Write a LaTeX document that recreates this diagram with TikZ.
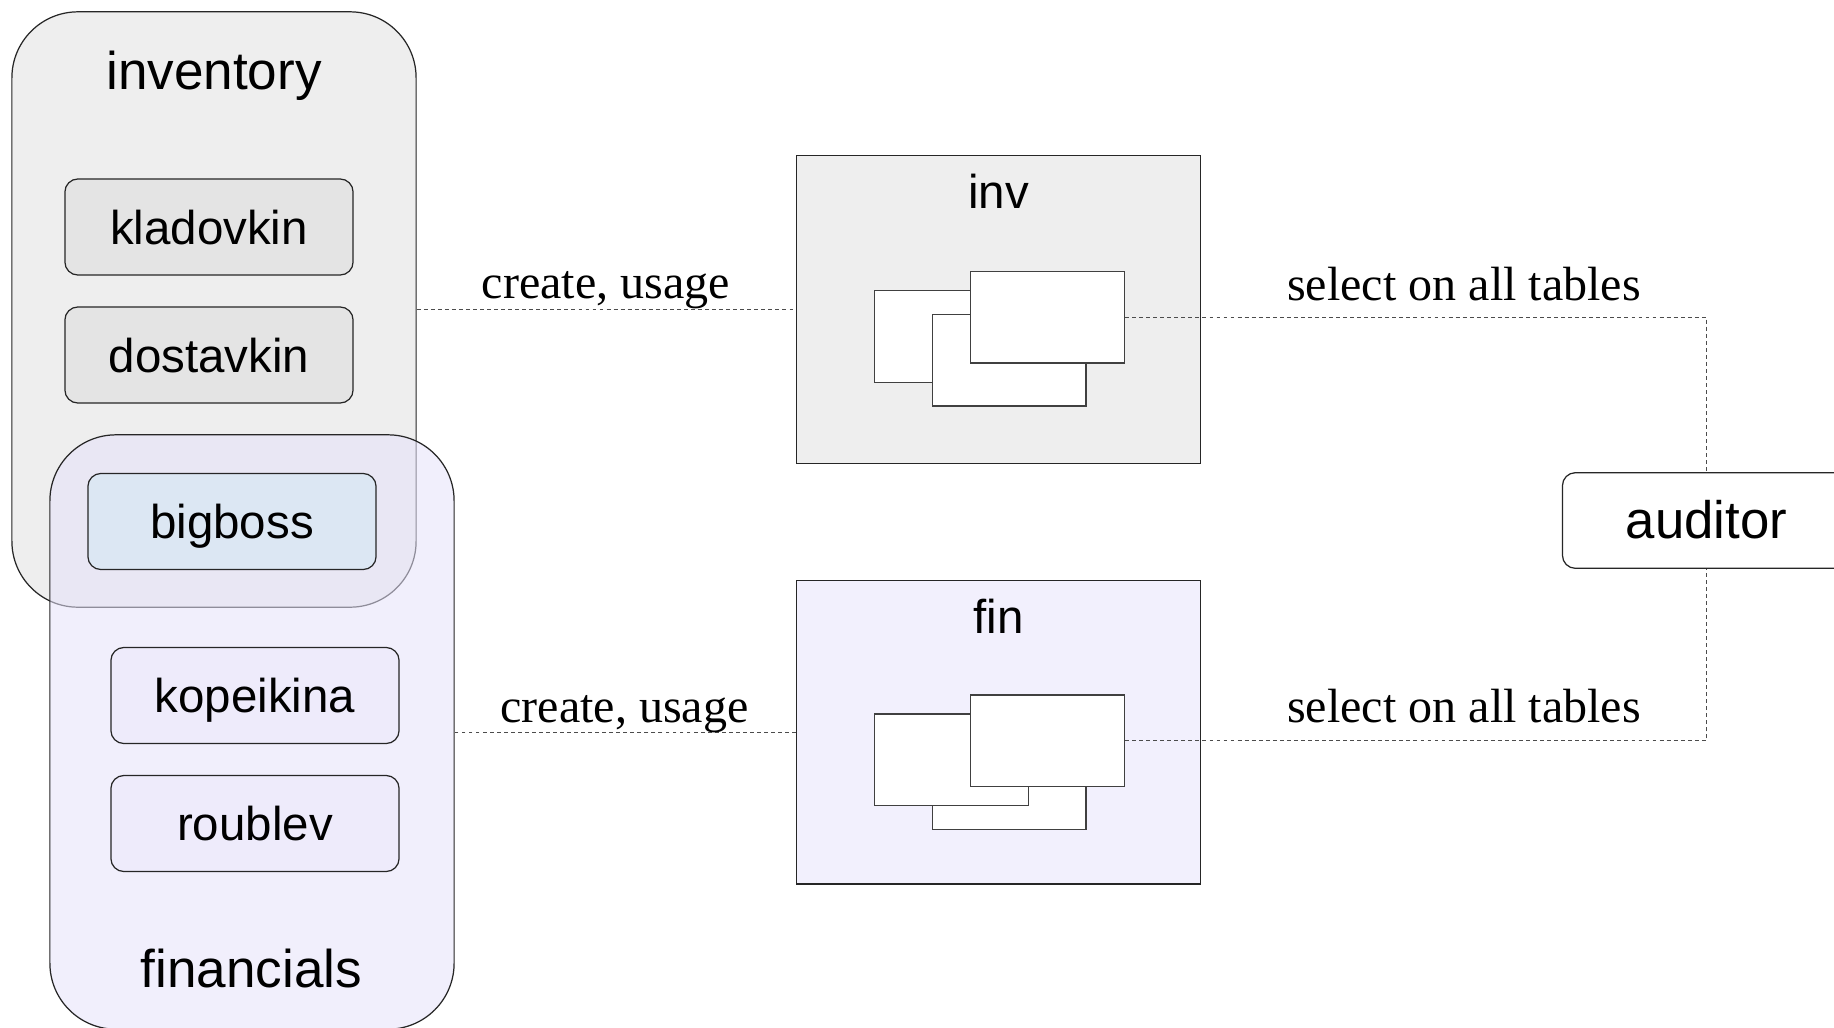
\documentclass[tikz,border=0pt]{standalone}
\usepackage{fontspec}
\setmainfont{Liberation Serif}
\newfontfamily\lsans{Liberation Sans}
\definecolor{invfill}{HTML}{EEEEEE}
\definecolor{userfill}{HTML}{E4E4E4}
\definecolor{finfill}{HTML}{E6E2FA}
\definecolor{fuserfill}{HTML}{EEEBFB}
\definecolor{bossfill}{HTML}{DCE7F3}
\definecolor{schfin}{HTML}{F2F0FD}
\begin{document}
\begin{tikzpicture}[x=0.01cm,y=-0.01cm,
  bigbox/.style={draw=black!85, line width=0.35pt, rounded corners=0.66cm, minimum width=4.04cm, inner sep=0},
  userbox/.style={draw=black!85, line width=0.35pt, rounded corners=0.13cm, minimum width=2.88cm, minimum height=0.96cm, inner sep=0, text height=9.7pt, text depth=0pt, font=\lsans\fontsize{13.5}{16}\selectfont},
  schema/.style={draw=black!85, line width=0.35pt, minimum width=4.04cm, inner sep=0},
  tbl/.style={draw=black!75, line width=0.4pt, fill=white, minimum width=1.537cm, minimum height=0.915cm, inner sep=0},
  bigtitle/.style={anchor=base, inner sep=0, font=\lsans\fontsize{15.1}{18}\selectfont},
  smalltitle/.style={anchor=base, inner sep=0, font=\lsans\fontsize{13.5}{16}\selectfont},
  elabel/.style={anchor=base, inner sep=0, font=\fontsize{13.66}{16}\selectfont},
  link/.style={draw=black!70, line width=0.35pt, dash pattern=on 1.1pt off 0.9pt}]
\clip (0,0) rectangle (1834,1027);
\fill[white] (0,0) rectangle (1834,1027);

% inventory group
\node[bigbox, fill=invfill, minimum height=5.95cm] (inventory) at (214,309.5) {};
\node[bigtitle] (inventoryT) at (214,89.5) {inventory};
\node[userbox, fill=userfill] (kladovkin) at (209,227) {kladovkin};
\node[userbox, fill=userfill] (dostavkin) at (209,355) {dostavkin};

% financials group (semi-transparent)
\node[bigbox, fill=finfill, fill opacity=0.55, text opacity=1, minimum height=5.94cm] (financials) at (252,732) {};
\node[userbox, fill=bossfill] (bigboss) at (232,521.5) {bigboss};
\node[userbox, fill=fuserfill] (kopeikina) at (255,695.5) {kopeikina};
\node[userbox, fill=fuserfill] (roublev) at (255,823.5) {roublev};
\node[bigtitle] (financialsT) at (251.5,987.5) {financials};

% schema inv
\node[schema, fill=invfill, minimum height=3.076cm] (inv) at (998.7,309.5) {};
\node[smalltitle] (invT) at (998.5,208) {inv};
\node[tbl] (invA) at (951.5,336.5) {};
\node[tbl] (invB) at (1009.2,360.2) {};
\node[tbl] (invC) at (1047.5,317.35) {};

% schema fin
\node[schema, fill=schfin, minimum height=3.033cm] (fin) at (998.7,732.35) {};
\node[smalltitle] (finT) at (998.5,633) {fin};
\node[tbl] (finB) at (1009.2,783.55) {};
\node[tbl] (finA) at (951.5,759.65) {};
\node[tbl] (finC) at (1047.5,740.65) {};

% auditor
\node[draw=black!85, line width=0.35pt, rounded corners=0.13cm, minimum width=2.88cm, minimum height=0.956cm, inner sep=0, fill=white, text height=10.4pt, text depth=0pt, font=\lsans\fontsize{15}{18}\selectfont] (auditor) at (1706.5,520.5) {auditor};

% connectors
\draw[link] (inventory.east) -- (inv.west);
\draw[link] (fin.west) -- (fin.west -| financials.east);
\draw[link] (invC.east) -| (auditor.north);
\draw[link] (finC.east) -| (auditor.south);

% labels
\node[elabel] (lab1) at (606,298) {create, usage};
\node[elabel] (lab2) at (624.6,722) {create, usage};
\node[elabel] (lab3) at (1464,300) {select on all tables};
\node[elabel] (lab4) at (1464,722.7) {select on all tables};
\end{tikzpicture}
\end{document}
